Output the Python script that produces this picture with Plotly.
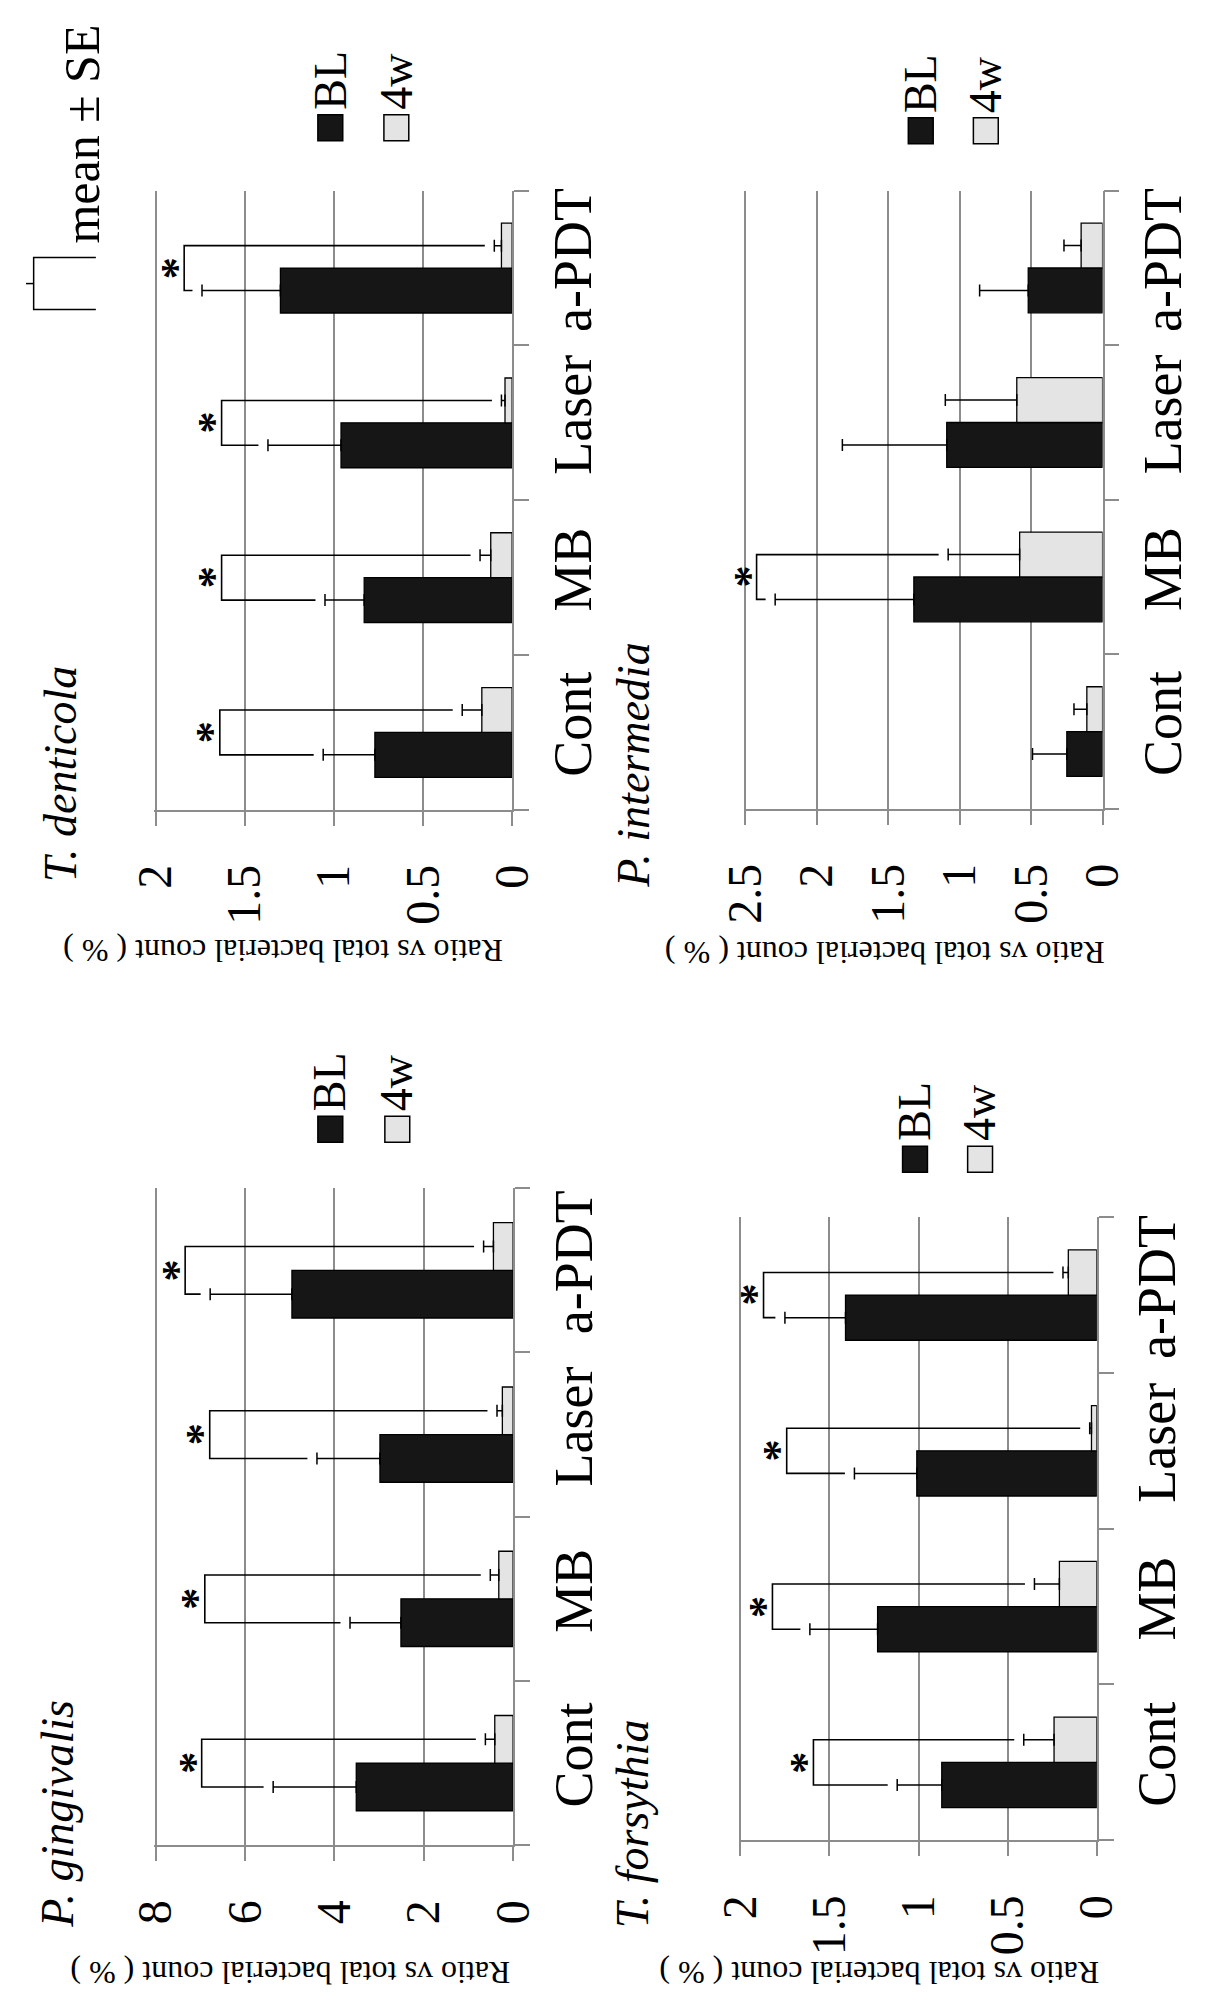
import plotly.graph_objects as go

W, H = 1208, 2009

# ---------------- data ----------------
categories = ["Cont", "MB", "Laser", "a-PDT"]
series_names = ["BL", "4w"]

# P. gingivalis
pg_bl = [3.51, 2.51, 2.98, 4.95]
pg_bl_se = [1.86, 1.14, 1.41, 1.83]
pg_4w = [0.41, 0.32, 0.24, 0.44]
pg_4w_se = [0.21, 0.19, 0.12, 0.22]
pg_sig = [6.97, 6.90, 6.79, 7.34]

# T. forsythia
tf_bl = [0.87, 1.23, 1.01, 1.41]
tf_bl_se = [0.25, 0.38, 0.35, 0.34]
tf_4w = [0.24, 0.21, 0.03, 0.16]
tf_4w_se = [0.17, 0.14, 0.01, 0.03]
tf_sig = [1.59, 1.82, 1.74, 1.87]

# T. denticola
td_bl = [0.77, 0.83, 0.96, 1.30]
td_bl_se = [0.29, 0.22, 0.41, 0.44]
td_4w = [0.17, 0.12, 0.04, 0.06]
td_4w_se = [0.11, 0.06, 0.02, 0.04]
td_sig = [1.64, 1.63, 1.63, 1.84]

# P. intermedia
pi_bl = [0.25, 1.32, 1.09, 0.52]
pi_bl_se = [0.24, 0.97, 0.73, 0.34]
pi_4w = [0.11, 0.58, 0.60, 0.15]
pi_4w_se = [0.09, 0.50, 0.50, 0.12]
pi_sig = [None, 2.42, None, None]

axis_max = [8, 2, 2, 2.5]
axis_dtick = [2, 0.5, 0.5, 0.5]
panel_titles = ["P. gingivalis", "T. forsythia", "T. denticola", "P. intermedia"]
y_title = "Ratio vs total bacterial count ( % )"

# ---------------- layout (pixels) ----------------
# plot box: x_left, x_right, y_top, y_bottom
boxes = [(134, 509, 1187, 1845), (745, 1119, 1216, 1840),
         (134, 508, 188, 808), (750, 1125, 188, 807)]
title_pos = [(33, 1930), (634, 1930), (36, 882), (635, 888)]
ratio_pos = [(276, 1973), (892, 1973), (268, 950), (897, 952)]
legend_pos = [(305, 1115, 375), (916, 1145, 984), (305, 112, 374), (922, 115, 990)]

FONT = "Liberation Serif"
GRID = "#8c8c8c"
BL_COLOR = "#161616"
W4_COLOR = "#e4e4e4"
BARGAP = 0.42


def fx(x):
    return x / W


def fy(y):
    return 1 - y / H


data_sets = [
    (pg_bl, pg_bl_se, pg_4w, pg_4w_se, pg_sig),
    (tf_bl, tf_bl_se, tf_4w, tf_4w_se, tf_sig),
    (td_bl, td_bl_se, td_4w, td_4w_se, td_sig),
    (pi_bl, pi_bl_se, pi_4w, pi_4w_se, pi_sig),
]

fig = go.Figure()
annotations = []
shapes = []
layout_axes = {}
ypos = list(range(len(categories)))
half = (1 - BARGAP) / 4

for k, (bl, bl_se, w4, w4_se, sig) in enumerate(data_sets):
    n = k + 1
    xa = "x" if n == 1 else f"x{n}"
    ya = "y" if n == 1 else f"y{n}"
    vmax = axis_max[k]
    for name, vals, se, col in [(series_names[0], bl, bl_se, BL_COLOR),
                                (series_names[1], w4, w4_se, W4_COLOR)]:
        fig.add_trace(go.Bar(
            x=vals, y=ypos, orientation="h", name=name, showlegend=False,
            marker=dict(color=col, line=dict(color="black", width=1.3)),
            error_x=dict(type="data", array=se, arrayminus=[0] * len(se),
                         symmetric=False, color="black", thickness=1.5, width=6),
            xaxis=xa, yaxis=ya, hoverinfo="skip"))
    # significance brackets
    gap = vmax * 10 / 375
    bx, by = [], []
    for i, lev in enumerate(sig):
        if lev is None:
            continue
        bx += [bl[i] + bl_se[i] + gap, lev, lev, w4[i] + w4_se[i] + gap, None]
        by += [i - half, i - half, i + half, i + half, None]
        annotations.append(dict(x=lev, y=i, xref=xa, yref=ya, text="<b>*</b>",
                                textangle=-90, showarrow=False, xanchor="center",
                                yanchor="middle", xshift=-8,
                                font=dict(family=FONT, size=44, color="black")))
    if bx:
        fig.add_trace(go.Scatter(x=bx, y=by, mode="lines", showlegend=False,
                                 line=dict(color="black", width=1.6),
                                 xaxis=xa, yaxis=ya, hoverinfo="skip"))

    x0, x1, yt, yb = boxes[k]
    xkey = "xaxis" if n == 1 else f"xaxis{n}"
    ykey = "yaxis" if n == 1 else f"yaxis{n}"
    layout_axes[xkey] = dict(
        domain=[fx(x0), fx(x1)], anchor=ya, range=[vmax * 1.004, 0],
        tick0=0, dtick=axis_dtick[k], showgrid=True, gridcolor=GRID, gridwidth=1.5,
        showline=True, linecolor=GRID, linewidth=1.5, zeroline=False,
        ticks="outside", ticklen=14, tickwidth=1.5, tickcolor=GRID,
        tickangle=-90, ticklabelstandoff=20,
        tickfont=dict(family=FONT, size=48, color="black"))
    layout_axes[ykey] = dict(
        domain=[fy(yb), fy(yt)], anchor=xa, side="right",
        range=[-0.5, len(categories) - 0.5],
        tickvals=ypos, ticktext=categories, ticks="",
        minor=dict(tickvals=[i - 0.5 for i in range(len(categories) + 1)],
                   ticks="outside", ticklen=15, tickwidth=1.5, tickcolor=GRID,
                   showgrid=False),
        showgrid=False, zeroline=False, showline=True, linecolor=GRID, linewidth=1.5,
        tickangle=-90, ticklabelstandoff=12,
        tickfont=dict(family=FONT, size=54, color="black"))

    # panel title
    tx, tyb = title_pos[k]
    annotations.append(dict(x=fx(tx), y=fy(tyb), xref="paper", yref="paper",
                            text=f"<i>{panel_titles[k]}</i>", textangle=-90,
                            showarrow=False, xanchor="center", yanchor="bottom",
                            font=dict(family=FONT, size=46, color="black")))
    # value axis title (upside down)
    rx, ry = ratio_pos[k]
    annotations.append(dict(x=fx(rx), y=fy(ry), xref="paper", yref="paper",
                            text=y_title, textangle=180, showarrow=False,
                            xanchor="center", yanchor="middle",
                            font=dict(family=FONT, size=32, color="black")))
    # legend
    lx1, ly, lx2 = legend_pos[k]
    for name, col, lx in [(series_names[0], BL_COLOR, lx1), (series_names[1], W4_COLOR, lx2)]:
        shapes.append(dict(type="rect", xref="paper", yref="paper",
                           x0=fx(lx), x1=fx(lx + 26), y0=fy(ly + 26), y1=fy(ly),
                           fillcolor=col, line=dict(color="black", width=1.5)))
        annotations.append(dict(x=fx(lx + 13), y=fy(ly - 3), xref="paper", yref="paper",
                                text=name, textangle=-90, showarrow=False,
                                xanchor="center", yanchor="bottom",
                                font=dict(family=FONT, size=46, color="black")))

# mean ± SE key
annotations.append(dict(x=fx(59), y=fy(243), xref="paper", yref="paper",
                        text="mean ± SE", textangle=-90, showarrow=False,
                        xanchor="center", yanchor="bottom",
                        font=dict(family=FONT, size=50, color="black")))
shapes.append(dict(type="path", xref="paper", yref="paper",
                   path=f"M {fx(73)} {fy(255)} L {fx(8)} {fy(255)} L {fx(8)} {fy(307)} L {fx(73)} {fy(307)}",
                   line=dict(color="black", width=1.5)))
shapes.append(dict(type="line", xref="paper", yref="paper",
                   x0=fx(0), x1=fx(8), y0=fy(281), y1=fy(281),
                   line=dict(color="black", width=1.5)))

fig.update_layout(
    width=W, height=H, margin=dict(l=0, r=0, t=0, b=0),
    paper_bgcolor="white", plot_bgcolor="white",
    barmode="group", bargap=BARGAP, bargroupgap=0,
    annotations=annotations, shapes=shapes,
    font=dict(family=FONT, color="black"),
    **layout_axes)

fig.write_html("out.html")
